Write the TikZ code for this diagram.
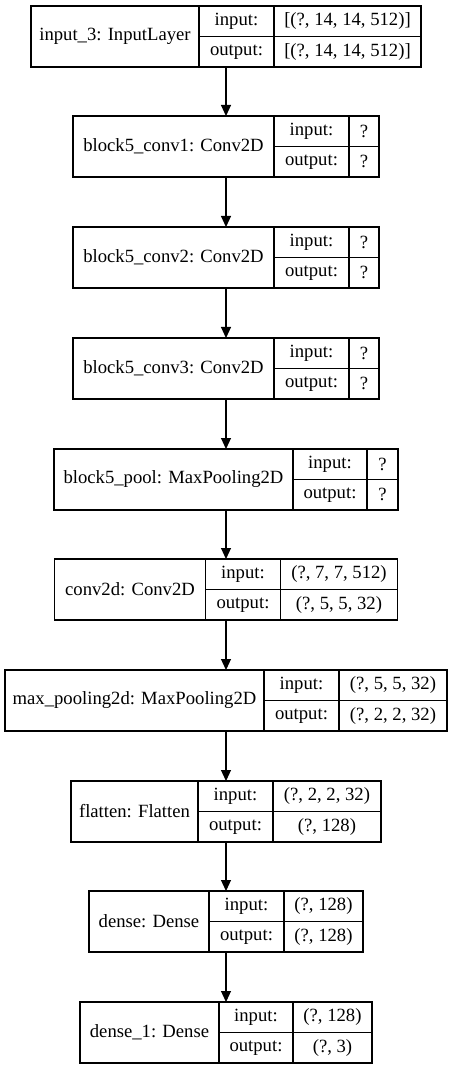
\documentclass[tikz,border=0pt]{standalone}
\usepackage{fontspec}
\setmainfont{Liberation Serif}
\usetikzlibrary{arrows.meta,positioning,fit}
\newcommand{\pxu}{0.75pt}
\tikzset{
  layername/.style={rectangle,draw,line width=0.8pt,outer sep=0pt,inner sep=1pt,minimum height=61*\pxu,font=\fontsize{14}{16}\selectfont},
  layercell/.style={rectangle,draw,line width=0.8pt,outer sep=0pt,inner sep=1pt,minimum height=30.5*\pxu,font=\fontsize{14}{16}\selectfont},
  layerbox/.style={rectangle,inner sep=0pt,outer sep=0pt},
  flow/.style={-{Triangle[length=8.25pt,width=7.5pt]},line width=0.8pt},
}
% name, top, label, input shape, output shape, label width, io width, shape width
\newcommand{\netlayer}[8]{%
  \pgfmathsetmacro\laytot{#6+#7+#8}
  \node[layername,minimum width=#6*\pxu,anchor=north west] (#1-name) at ({226-\laytot/2},#2) {#3};
  \node[layercell,minimum width=#7*\pxu,anchor=north west] (#1-in) at (#1-name.north east) {input:};
  \node[layercell,minimum width=#8*\pxu,anchor=north west] (#1-inv) at (#1-in.north east) {#4};
  \node[layercell,minimum width=#7*\pxu,anchor=north west] (#1-out) at (#1-in.south west) {output:};
  \node[layercell,minimum width=#8*\pxu,anchor=north west] (#1-outv) at (#1-out.north east) {#5};
  \node[layerbox,fit=(#1-name)(#1-outv)] (#1) {};
}

\begin{document}
\begin{tikzpicture}[x=0.75pt,y=-0.75pt]
  \useasboundingbox (0,0) rectangle (452,1069);
  \netlayer{inlay}{6}{input\_3: InputLayer}{[(?, 14, 14, 512)]}{[(?, 14, 14, 512)]}{168}{75}{147}
  \netlayer{conva}{116}{block5\_conv1: Conv2D}{?}{?}{201}{75}{30}
  \netlayer{convb}{227}{block5\_conv2: Conv2D}{?}{?}{201}{75}{30}
  \netlayer{convc}{338}{block5\_conv3: Conv2D}{?}{?}{201}{75}{30}
  \netlayer{pool}{449}{block5\_pool: MaxPooling2D}{?}{?}{239}{74}{31}
  \netlayer{conv}{559}{conv2d: Conv2D}{(?, 7, 7, 512)}{(?, 5, 5, 32)}{151}{75}{117}
  \netlayer{maxpool}{670}{max\_pooling2d: MaxPooling2D}{(?, 5, 5, 32)}{(?, 2, 2, 32)}{259}{75}{108}
  \netlayer{flat}{781}{flatten: Flatten}{(?, 2, 2, 32)}{(?, 128)}{127}{75}{108}
  \netlayer{dense}{891}{dense: Dense}{(?, 128)}{(?, 128)}{120}{75}{79}
  \netlayer{denseb}{1002}{dense\_1: Dense}{(?, 128)}{(?, 3)}{139}{74}{79}
  \foreach \a/\b in {inlay/conva,conva/convb,convb/convc,convc/pool,pool/conv,conv/maxpool,maxpool/flat,flat/dense,dense/denseb}
    \draw[flow] (\a) -- (\b);
\end{tikzpicture}
\end{document}
